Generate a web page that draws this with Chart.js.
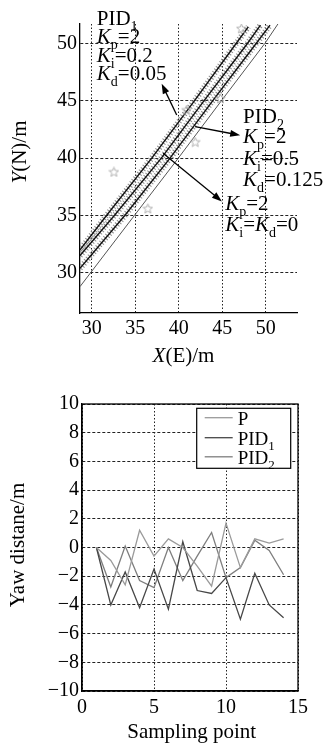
<!DOCTYPE html>
<html>
<head>
<meta charset="utf-8">
<script src="https://cdn.jsdelivr.net/npm/chart.js@4.4.0/dist/chart.umd.min.js"></script>
<style>
  html, body { margin: 0; padding: 0; background: #fff; }
  body { width: 323px; height: 749px; position: relative; overflow: hidden; }
  .box { position: absolute; left: 0; width: 323px; }
</style>
</head>
<body>
<div class="box" style="top:0;height:375px"><canvas id="trackChart"></canvas></div>
<div class="box" style="top:375px;height:374px"><canvas id="yawChart"></canvas></div>
<script>
// track plot (E, N in metres)
const pid1PathX = [28.65, 31.7, 36.9, 41.8, 46.6, 48.0];
const pid1PathY = [32.0, 35, 40, 45, 50, 51.45];
const pPathX = [28.65, 32.6, 38.0, 42.9, 47.9, 49.4];
const pPathY = [31.5, 35, 40, 45, 50, 51.6];
const pid2PathX = [28.65, 33.8, 39.0, 43.9, 48.9, 50.5];
const pid2PathY = [30.4, 35, 40, 45, 50, 51.6];
const refPathX = [28.65, 34.9, 39.95, 44.9, 49.9, 51.45];
const refPathY = [28.8, 35, 40, 45, 50, 51.75];
const gpsX = [32.55, 36.45, 41.9, 40.9, 44.8, 47.2];
const gpsY = [38.8, 35.6, 41.4, 44.2, 45.2, 51.3];
const trackTicksX = [30, 35, 40, 45, 50];
const trackTicksY = [30, 35, 40, 45, 50];

// yaw distance per sampling point
const samplePoints = [1, 2, 3, 4, 5, 6, 7, 8, 9, 10, 11, 12, 13, 14];
const yawP = [0, -0.9, -2.6, 1.2, -0.6, 0.6, 0.0, -1.3, -2.7, 1.7, -1.4, 0.6, 0.3, 0.6];
const yawPID1 = [0, -4.0, -1.7, -4.2, -1.5, -4.3, 0.4, -3.0, -3.2, -2.1, -5.0, -1.8, -4.0, -4.9];
const yawPID2 = [0, -2.75, 0.1, -2.3, -2.8, 0.0, -2.3, -0.6, 1.05, -2.1, -1.4, 0.5, -0.2, -1.9];

const SERIF = '"Liberation Serif", "Times New Roman", serif';
const pts = (xs, ys) => xs.map((x, i) => ({ x: x, y: ys[i] }));

// text pieces: ['K','i'] italic, ['p','s'] subscript, ['=2',''] plain
function fontFor(k, size) {
    if (k === 'i') return 'italic ' + size + 'px ' + SERIF;
    if (k === 's') return Math.round(size * 0.66) + 'px ' + SERIF;
    return size + 'px ' + SERIF;
}
function richWidth(ctx, runs, size) {
    let w = 0;
    runs.forEach(([t, k]) => {
        ctx.font = fontFor(k, size);
        w += ctx.measureText(t).width;
    });
    return w;
}
function drawRich(ctx, x, y, runs, size) {
    ctx.save();
    ctx.fillStyle = '#000';
    ctx.textAlign = 'left';
    ctx.textBaseline = 'alphabetic';
    runs.forEach(([t, k]) => {
        ctx.font = fontFor(k, size);
        ctx.fillText(t, x, k === 's' ? y + size * 0.28 : y);
        x += ctx.measureText(t).width;
    });
    ctx.restore();
}
function arrow(ctx, x1, y1, x2, y2) {
    const a = Math.atan2(y2 - y1, x2 - x1);
    ctx.save();
    ctx.strokeStyle = '#000';
    ctx.fillStyle = '#000';
    ctx.lineWidth = 1.3;
    ctx.beginPath();
    ctx.moveTo(x1, y1);
    ctx.lineTo(x2 - 8 * Math.cos(a), y2 - 8 * Math.sin(a));
    ctx.stroke();
    ctx.beginPath();
    ctx.moveTo(x2, y2);
    ctx.lineTo(x2 - 10 * Math.cos(a) + 3.5 * Math.sin(a), y2 - 10 * Math.sin(a) - 3.5 * Math.cos(a));
    ctx.lineTo(x2 - 10 * Math.cos(a) - 3.5 * Math.sin(a), y2 - 10 * Math.sin(a) + 3.5 * Math.cos(a));
    ctx.closePath();
    ctx.fill();
    ctx.restore();
}

// outlined five-point star for the scattered fixes
const starImg = document.createElement('canvas');
starImg.width = 11; starImg.height = 11;
(function () {
    const c = starImg.getContext('2d');
    c.strokeStyle = '#b0b0b0';
    c.lineWidth = 1;
    c.beginPath();
    for (let i = 0; i < 10; i++) {
        const r = i % 2 ? 2.2 : 5, a = -Math.PI / 2 + i * Math.PI / 5;
        c.lineTo(5.5 + r * Math.cos(a), 5.8 + r * Math.sin(a));
    }
    c.closePath();
    c.stroke();
})();

const tickFont = { family: SERIF, size: 20 };

// ---------- top: trajectories ----------
const trackNotes = {
    id: 'trackNotes',
    afterDraw(chart) {
        const ctx = chart.ctx;
        const sx = chart.scales.x, sy = chart.scales.y;
        const X = v => sx.getPixelForValue(v), Y = v => sy.getPixelForValue(v);

        const groups = [
            { x: 30.58, ys: [51.6, 50.0, 48.4, 46.8], lines: [
                [['PID', ''], ['1', 's']],
                [['K', 'i'], ['p', 's'], ['=2', '']],
                [['K', 'i'], ['i', 's'], ['=0.2', '']],
                [['K', 'i'], ['d', 's'], ['=0.05', '']]] },
            { x: 47.4, ys: [43.1, 41.34, 39.43, 37.6], lines: [
                [['PID', ''], ['2', 's']],
                [['K', 'i'], ['p', 's'], ['=2', '']],
                [['K', 'i'], ['i', 's'], ['=0.5', '']],
                [['K', 'i'], ['d', 's'], ['=0.125', '']]] },
            { x: 45.35, ys: [35.44, 33.62], lines: [
                [['K', 'i'], ['p', 's'], ['=2', '']],
                [['K', 'i'], ['i', 's'], ['=', ''], ['K', 'i'], ['d', 's'], ['=0', '']]] }
        ];
        groups.forEach(g => g.lines.forEach((runs, i) => drawRich(ctx, X(g.x), Y(g.ys[i]), runs, 21)));

        arrow(ctx, X(39.77), Y(43.77), X(38.04), Y(46.5));
        arrow(ctx, X(41.88), Y(42.75), X(47.07), Y(42.0));
        arrow(ctx, X(38.2), Y(40.43), X(44.96), Y(36.23));

        // axis titles
        const xt = [['X', 'i'], ['(E)/m', '']];
        drawRich(ctx, 183.5 - richWidth(ctx, xt, 21) / 2, 362, xt, 21);
        const yt = [['Y', 'i'], ['(N)/m', '']];
        ctx.save();
        ctx.translate(26, 152);
        ctx.rotate(-Math.PI / 2);
        drawRich(ctx, -richWidth(ctx, yt, 21) / 2, 0, yt, 21);
        ctx.restore();
    }
};

const hatch = (data) => ({
    data: data, borderColor: '#8c8c8c', borderWidth: 6, borderDash: [1, 2],
    pointRadius: 0, tension: 0, order: 5
});
const path = (data, color, width) => ({
    data: data, borderColor: color, borderWidth: width, pointRadius: 0, tension: 0, order: 1
});

new Chart(document.getElementById('trackChart').getContext('2d'), {
    type: 'line',
    data: {
        datasets: [
            hatch(pts(pid1PathX, pid1PathY)),
            hatch(pts(pPathX, pPathY)),
            hatch(pts(pid2PathX, pid2PathY)),
            path(pts(pid1PathX, pid1PathY), '#111', 1.4),
            path(pts(pPathX, pPathY), '#111', 1.4),
            path(pts(pid2PathX, pid2PathY), '#111', 1.4),
            path(pts(refPathX, refPathY), '#555', 1),
            {
                data: pts(gpsX, gpsY), showLine: false, pointStyle: starImg,
                pointRadius: 5, order: 0
            }
        ]
    },
    options: {
        responsive: true,
        maintainAspectRatio: false,
        animation: false,
        layout: { padding: { top: 24, right: 26, left: 0, bottom: 0 } },
        plugins: { legend: { display: false }, tooltip: { enabled: false } },
        scales: {
            x: {
                type: 'linear', min: 28.65, max: 53.6,
                afterBuildTicks: s => { s.ticks = trackTicksX.map(v => ({ value: v })); },
                afterFit: s => { s.height = 62; },
                grid: { color: '#222', lineWidth: 1, drawTicks: false },
                border: { color: '#000', width: 1.3, dash: [1.5, 2] },
                ticks: { color: '#000', padding: 4, font: tickFont, maxRotation: 0 }
            },
            y: {
                type: 'linear', min: 26.5, max: 51.7,
                afterBuildTicks: s => { s.ticks = trackTicksY.map(v => ({ value: v })); },
                afterFit: s => { s.width = 80; },
                grid: { color: '#222', lineWidth: 1, drawTicks: false },
                border: { color: '#000', width: 1.3, dash: [3, 2] },
                ticks: { color: '#000', padding: 3, font: tickFont }
            }
        }
    },
    plugins: [trackNotes]
});

// ---------- bottom: yaw distance ----------
const yawSeries = [
    { name: [['P', '']], values: yawP, color: '#9a9a9a' },
    { name: [['PID', ''], ['1', 's']], values: yawPID1, color: '#474747' },
    { name: [['PID', ''], ['2', 's']], values: yawPID2, color: '#7e7e7e' }
];

const yawFrame = {
    id: 'yawFrame',
    afterDraw(chart) {
        const ctx = chart.ctx, a = chart.chartArea;
        ctx.save();
        ctx.strokeStyle = '#000';
        ctx.lineWidth = 1.3;
        ctx.strokeRect(a.left, a.top, a.right - a.left, a.bottom - a.top);

        // legend box
        const bl = a.right - 101.3, bt = a.top + 4.3, bw = 94, bh = 60;
        ctx.fillStyle = '#fff';
        ctx.fillRect(bl, bt, bw, bh);
        ctx.lineWidth = 1.2;
        ctx.strokeRect(bl, bt, bw, bh);
        const base = [16.4, 36.4, 55.5];
        yawSeries.forEach((s, i) => {
            ctx.strokeStyle = s.color;
            ctx.lineWidth = 1.3;
            ctx.beginPath();
            ctx.moveTo(bl + 8, bt + base[i] - 7);
            ctx.lineTo(bl + 36, bt + base[i] - 7);
            ctx.stroke();
            drawRich(ctx, bl + 41, bt + base[i], s.name, 19);
        });
        ctx.restore();

        const xt = [['Sampling point', '']];
        drawRich(ctx, 191.7 - richWidth(ctx, xt, 21) / 2, 363, xt, 21);
        const yt = [['Yaw distane/m', '']];
        ctx.save();
        ctx.translate(24, 170);
        ctx.rotate(-Math.PI / 2);
        drawRich(ctx, -richWidth(ctx, yt, 21) / 2, 0, yt, 21);
        ctx.restore();
    }
};

new Chart(document.getElementById('yawChart').getContext('2d'), {
    type: 'line',
    data: {
        datasets: yawSeries.map(s => ({
            data: pts(samplePoints, s.values),
            borderColor: s.color,
            borderWidth: 1.3,
            pointRadius: 0,
            tension: 0
        }))
    },
    options: {
        responsive: true,
        maintainAspectRatio: false,
        animation: false,
        layout: { padding: { top: 29, right: 25, left: 0, bottom: 0 } },
        plugins: { legend: { display: false }, tooltip: { enabled: false } },
        scales: {
            x: {
                type: 'linear', min: 0, max: 15,
                afterFit: s => { s.height = 58; },
                grid: { color: '#222', lineWidth: 1, drawTicks: false },
                border: { color: '#000', width: 1.3, dash: [1.5, 2] },
                ticks: { stepSize: 5, color: '#000', padding: 5, font: tickFont, maxRotation: 0 }
            },
            y: {
                type: 'linear', min: -10, max: 10,
                afterFit: s => { s.width = 82; },
                grid: { color: '#222', lineWidth: 1, drawTicks: false },
                border: { color: '#000', width: 1.3, dash: [3, 2] },
                ticks: {
                    stepSize: 2, color: '#000', padding: 3, font: tickFont,
                    callback: v => String(v).replace('-', '\u2212')
                }
            }
        }
    },
    plugins: [yawFrame]
});
</script>
</body>
</html>
